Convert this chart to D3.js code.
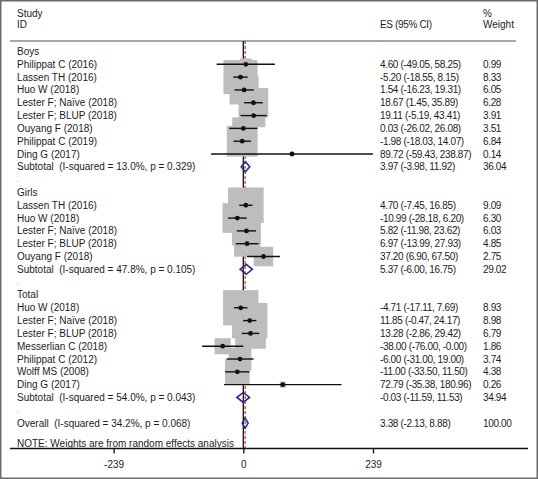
<!DOCTYPE html>
<html>
<head>
<meta charset="utf-8">
<script src="https://cdn.jsdelivr.net/npm/d3@7"></script>
<style>
  html, body { margin: 0; padding: 0; background: #fff; }
  svg text { font-family: Arial, "Liberation Sans", sans-serif; fill: #1c1c1c; white-space: pre; }
</style>
</head>
<body>
<svg id="chart" width="538" height="479"></svg>
<script>
// ---------- DATA ----------
const groupNames = ["Boys", "Girls", "Total"];

const boysStudies = ["Philippat C (2016)", "Lassen TH (2016)", "Huo W (2018)", "Lester F; Naïve (2018)", "Lester F; BLUP (2018)", "Ouyang F (2018)", "Philippat C (2019)", "Ding G (2017)"];
const boysES     = [4.60, -5.20, 1.54, 18.67, 19.11, 0.03, -1.98, 89.72];
const boysLo     = [-49.05, -18.55, -16.23, 1.45, -5.19, -26.02, -18.03, -59.43];
const boysHi     = [58.25, 8.15, 19.31, 35.89, 43.41, 26.08, 14.07, 238.87];
const boysWeight = [0.99, 8.33, 6.05, 6.28, 3.91, 3.51, 6.84, 0.14];

const girlsStudies = ["Lassen TH (2016)", "Huo W (2018)", "Lester F; Naïve (2018)", "Lester F; BLUP (2018)", "Ouyang F (2018)"];
const girlsES     = [4.70, -10.99, 5.82, 6.97, 37.20];
const girlsLo     = [-7.45, -28.18, -11.98, -13.99, 6.90];
const girlsHi     = [16.85, 6.20, 23.62, 27.93, 67.50];
const girlsWeight = [9.09, 6.30, 6.03, 4.85, 2.75];

const totalStudies = ["Huo W (2018)", "Lester F; Naïve (2018)", "Lester F; BLUP (2018)", "Messerlian C (2018)", "Philippat C (2012)", "Wolff MS (2008)", "Ding G (2017)"];
const totalES     = [-4.71, 11.85, 13.28, -38.00, -6.00, -11.00, 72.79];
const totalLo     = [-17.11, -0.47, -2.86, -76.00, -31.00, -33.50, -35.38];
const totalHi     = [7.69, 24.17, 29.42, -0.001, 19.00, 11.50, 180.96];
const totalWeight = [8.93, 8.98, 6.79, 1.86, 3.74, 4.38, 0.26];

const subtotalLabels = ["Subtotal  (I-squared = 13.0%, p = 0.329)", "Subtotal  (I-squared = 47.8%, p = 0.105)", "Subtotal  (I-squared = 54.0%, p = 0.043)"];
const subtotalES     = [3.97, 5.37, -0.03];
const subtotalLo     = [-3.98, -6.00, -11.59];
const subtotalHi     = [11.92, 16.75, 11.53];
const subtotalWeight = [36.04, 29.02, 34.94];

const overallLabel  = "Overall  (I-squared = 34.2%, p = 0.068)";
const overallES     = 3.38;
const overallLo     = -2.13;
const overallHi     = 8.88;
const overallWeight = 100.00;

const axisTicks = [-239, 0, 239];
const noteText = "NOTE: Weights are from random effects analysis";

// ---------- BUILD ROWS ----------
const groups = [
  {name: groupNames[0], studies: boysStudies, es: boysES, lo: boysLo, hi: boysHi, w: boysWeight},
  {name: groupNames[1], studies: girlsStudies, es: girlsES, lo: girlsLo, hi: girlsHi, w: girlsWeight},
  {name: groupNames[2], studies: totalStudies, es: totalES, lo: totalLo, hi: totalHi, w: totalWeight}
];
const rows = [];
let idx = 0;
groups.forEach((g, gi) => {
  rows.push({type: "head", label: g.name, i: idx++});
  g.studies.forEach((s, k) => rows.push({type: "study", label: s, es: g.es[k], lo: g.lo[k], hi: g.hi[k], w: g.w[k], i: idx++}));
  rows.push({type: "sub", label: subtotalLabels[gi], es: subtotalES[gi], lo: subtotalLo[gi], hi: subtotalHi[gi], w: subtotalWeight[gi], i: idx++});
  rows.push({type: "blank", label: ".", i: idx++});
});
rows.push({type: "sub", label: overallLabel, es: overallES, lo: overallLo, hi: overallHi, w: overallWeight, i: idx++});

// ---------- SCALES ----------
const svg = d3.select("#chart");
const W = 538, H = 479;
const x = d3.scaleLinear().domain([-239, 239]).range([113.6, 373]);
const y = d3.scaleLinear().domain([0, 29]).range([51.5, 423.1]);
const boxSide = d3.scaleSqrt().domain([0, 1]).range([0, 11.8]);
const fmt = v => v.toFixed(2);
const FS = 10;
const ES_LS = -0.35;
const textX = 17, esX = 380, wX = 483;
const topY = 41, axisY = 448.5;

// frame
svg.append("rect").attr("x", 0.75).attr("y", 0.75).attr("width", W - 1.5).attr("height", H - 1.5)
  .attr("fill", "none").attr("stroke", "#6a6a6a").attr("stroke-width", 1.5);

// headers
const hdr = svg.append("g").attr("font-size", FS);
hdr.append("text").attr("x", textX).attr("y", 13.3).attr("dy", "0.35em").text("Study");
hdr.append("text").attr("x", textX).attr("y", 24.8).attr("dy", "0.35em").text("ID");
hdr.append("text").attr("x", esX).attr("y", 24.8).attr("dy", "0.35em").attr("letter-spacing", ES_LS).text("ES (95% CI)");
hdr.append("text").attr("x", wX).attr("y", 13.3).attr("dy", "0.35em").text("%");
hdr.append("text").attr("x", wX).attr("y", 24.8).attr("dy", "0.35em").text("Weight");
svg.append("line").attr("x1", 10).attr("x2", 516).attr("y1", topY).attr("y2", topY)
  .attr("stroke", "#a8a8a8").attr("stroke-width", 2);

// reference lines
svg.append("line").attr("x1", x(0)).attr("x2", x(0)).attr("y1", topY).attr("y2", axisY)
  .attr("stroke", "#111").attr("stroke-width", 1.3);
svg.append("line").attr("x1", x(overallES)).attr("x2", x(overallES)).attr("y1", topY).attr("y2", axisY)
  .attr("stroke", "#cc3333").attr("stroke-width", 1.2).attr("stroke-dasharray", "3,2");

const studyRows = rows.filter(r => r.type === "study");
// boxes
svg.append("g").selectAll("rect").data(studyRows).join("rect")
  .attr("x", d => x(d.es) - boxSide(d.w) / 2)
  .attr("y", d => y(d.i) - boxSide(d.w) / 2)
  .attr("width", d => boxSide(d.w))
  .attr("height", d => boxSide(d.w))
  .attr("fill", "#bdbdbd");
// CI lines
svg.append("g").selectAll("line").data(studyRows).join("line")
  .attr("x1", d => x(d.lo)).attr("x2", d => x(d.hi))
  .attr("y1", d => y(d.i)).attr("y2", d => y(d.i))
  .attr("stroke", "#111").attr("stroke-width", 1.4);
// points
svg.append("g").selectAll("circle").data(studyRows).join("circle")
  .attr("cx", d => x(d.es)).attr("cy", d => y(d.i)).attr("r", 2.4).attr("fill", "#111");
// diamonds
const subRows = rows.filter(r => r.type === "sub");
svg.append("g").selectAll("path").data(subRows).join("path")
  .attr("d", d => {
    const yy = y(d.i);
    return `M${x(d.lo)},${yy}L${x(d.es)},${yy - 5}L${x(d.hi)},${yy}L${x(d.es)},${yy + 5}Z`;
  })
  .attr("fill", "none").attr("stroke", "#2b2b8f").attr("stroke-width", 1.6);

// left labels
svg.append("g").attr("font-size", FS).selectAll("text").data(rows).join("text")
  .attr("x", textX).attr("y", d => y(d.i)).attr("dy", "0.35em")
  .attr("fill", d => d.type === "blank" ? "#999" : "#1c1c1c")
  .attr("font-size", d => d.type === "blank" ? 6 : FS)
  .text(d => d.label);

// ES and weight columns
const valRows = rows.filter(r => r.type === "study" || r.type === "sub");
svg.append("g").attr("font-size", FS).attr("letter-spacing", ES_LS).selectAll("text").data(valRows).join("text")
  .attr("x", esX).attr("y", d => y(d.i)).attr("dy", "0.35em")
  .text(d => `${fmt(d.es)} (${fmt(d.lo)}, ${fmt(d.hi)})`);
svg.append("g").attr("font-size", FS).attr("letter-spacing", ES_LS).selectAll("text").data(valRows).join("text")
  .attr("x", wX).attr("y", d => y(d.i)).attr("dy", "0.35em")
  .text(d => fmt(d.w));

// note
svg.append("text").attr("x", textX).attr("y", 443).attr("dy", "0.35em").attr("font-size", FS).text(noteText);

// axis
svg.append("line").attr("x1", 10).attr("x2", 528).attr("y1", axisY).attr("y2", axisY)
  .attr("stroke", "#111").attr("stroke-width", 1.3);
const axis = d3.axisBottom(x).tickValues(axisTicks).tickSize(5).tickPadding(7).tickFormat(d3.format("d"));
const ag = svg.append("g").attr("transform", `translate(0,${axisY})`).call(axis);
ag.select(".domain").remove();
ag.selectAll(".tick line").attr("stroke", "#111").attr("stroke-width", 1.3);
ag.selectAll(".tick text").attr("font-size", FS).attr("font-family", "Arial, 'Liberation Sans', sans-serif")
  .attr("fill", "#1c1c1c").text(d => d < 0 ? "-" + Math.abs(d) : d);
</script>
</body>
</html>
